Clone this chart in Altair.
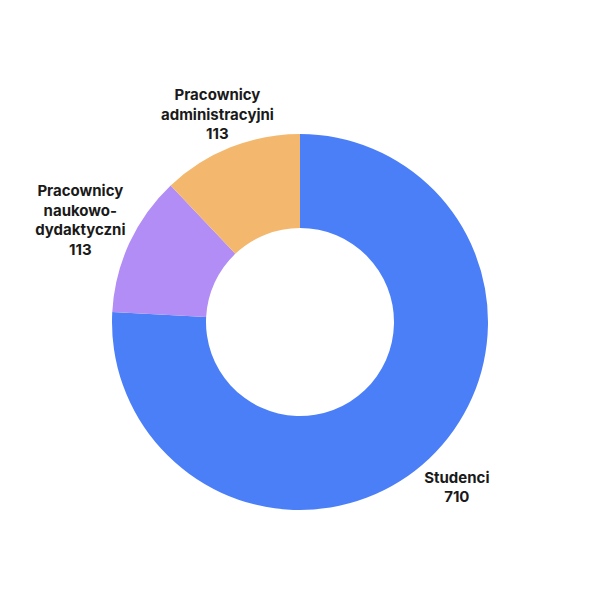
import altair as alt
import pandas as pd

categories = ["Studenci", "Pracownicy\nnaukowo-\ndydaktyczni", "Pracownicy\nadministracyjni"]
values = [710, 113, 113]
colors = ["#4B7FF8", "#B18DF5", "#F3B86E"]

df = pd.DataFrame({
    "kategoria": categories,
    "wartosc": values,
    "kolejnosc": list(range(len(categories))),
})

LH = 19.5

base = alt.Chart(df).transform_calculate(
    etykieta="datum.kategoria + '\\n' + datum.wartosc"
).encode(
    theta=alt.Theta("wartosc:Q", stack=True),
    order=alt.Order("kolejnosc:O"),
    x=alt.value(292),
    y=alt.value(314),
)

arcs = base.mark_arc(innerRadius=94, outerRadius=188, stroke=None).encode(
    color=alt.Color("kategoria:N", scale=alt.Scale(domain=categories, range=colors), legend=None),
)


def label_layer(idx, radius):
    n_lines = categories[idx].count("\n") + 2
    return base.mark_text(
        radius=radius,
        dy=-(n_lines - 1) * LH / 2,
        font="Inter",
        fontSize=15,
        fontWeight="bold",
        color="#1a1a1a",
        lineBreak="\n",
        lineHeight=LH,
        align="center",
        baseline="middle",
    ).encode(
        text="etykieta:N",
        opacity=alt.condition(f"datum.kolejnosc == {idx}", alt.value(1), alt.value(0)),
    )


chart = alt.layer(
    arcs, label_layer(0, 228), label_layer(1, 242), label_layer(2, 223)
).properties(width=584, height=584, padding=0).configure_view(stroke=None)

chart.save("out.html", embed_options={"renderer": "svg", "actions": False})
